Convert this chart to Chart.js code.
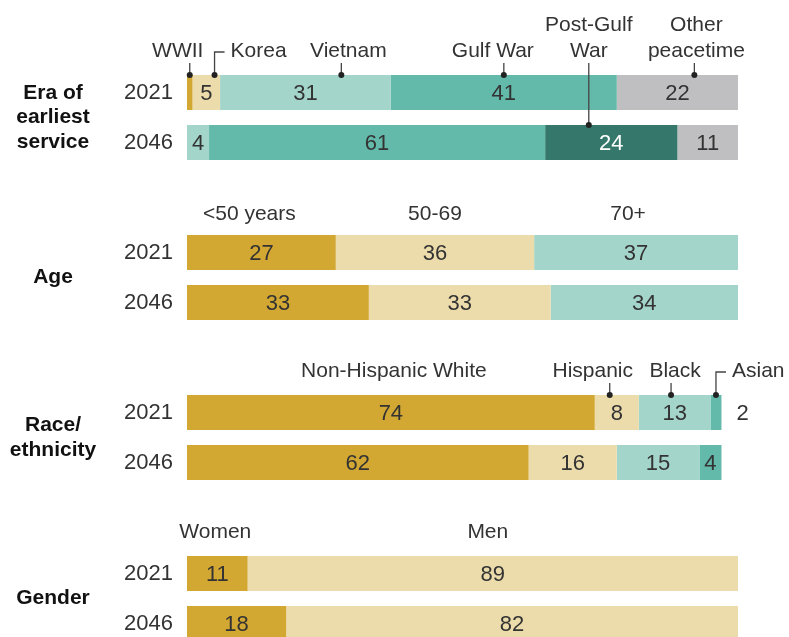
<!DOCTYPE html>
<html lang="en">
<head>
<meta charset="UTF-8" />
<title>Profile of U.S. veterans, 2021 and 2046</title>
<style>
  body {
    margin: 0;
    background: #fff;
    overflow: hidden;
    width: 789px;
    height: 637px;
    position: relative;
  }
  .panel {
    position: absolute;
    left: 0;
    width: 789px;
    height: 170px;
  }
</style>
</head>
<body>
<div class="panel" style="top: 0px"><canvas id="eraChart" width="789" height="170"></canvas></div>
<div class="panel" style="top: 160px"><canvas id="ageChart" width="789" height="170"></canvas></div>
<div class="panel" style="top: 320px"><canvas id="raceChart" width="789" height="170"></canvas></div>
<div class="panel" style="top: 481px"><canvas id="genderChart" width="789" height="170"></canvas></div>

<script src="https://cdn.jsdelivr.net/npm/chart.js"></script>
<script>
const years = ["2021", "2046"];

const eraLabels = ["WWII", "Korea", "Vietnam", "Gulf War", ["Post-Gulf", "War"], ["Other", "peacetime"]];
const era2021 = [1, 5, 31, 41, 0, 22];
const era2046 = [0, 0, 4, 61, 24, 11];

const ageLabels = ["<50 years", "50-69", "70+"];
const age2021 = [27, 36, 37];
const age2046 = [33, 33, 34];

const raceLabels = ["Non-Hispanic White", "Hispanic", "Black", "Asian"];
const race2021 = [74, 8, 13, 2];
const race2046 = [62, 16, 15, 4];

const genderLabels = ["Women", "Men"];
const gender2021 = [11, 89];
const gender2046 = [18, 82];

const FONT = '"Liberation Sans", Arial, sans-serif';
const TEXT = "#333";
const GOLD = "#d2a732";
const BEIGE = "#eddcab";
const LTEAL = "#a4d5ca";
const TEAL = "#63baab";
const DGREEN = "#35776a";
const GRAY = "#bfbfc1";

// where each label and its leader sit (pos = fraction along the segment)
const eraMarks = [
  { pos: 0.5, dx: -12, leader: "line" },
  { pos: 0.8, leader: "elbow" },
  { pos: 0.71, dx: 7, leader: "line" },
  { pos: 0.5, dx: -11, leader: "line" },
  { pos: 0.33, dx: 0, leader: "line" },
  { pos: 0.64, dx: 2, leader: "line" },
];
const ageMarks = [{ dx: -12 }, { dx: 0 }, { dx: -8 }];
const raceMarks = [
  { dx: 3 },
  { pos: 0.34, dx: -17, leader: "line" },
  { pos: 0.45, dx: 4, leader: "line" },
  { pos: 0.5, leader: "elbow" },
];
const genderMarks = [{ dx: -2 }, { dx: -5 }];

function panelPlugin(cfg) {
  return {
    id: "panel",
    afterDatasetsDraw(chart) {
      const ctx = chart.ctx;
      const area = chart.chartArea;
      const sets = chart.data.datasets;
      ctx.save();

      // group title on the left
      ctx.font = "bold 21px " + FONT;
      ctx.fillStyle = "#111";
      ctx.textAlign = "center";
      ctx.textBaseline = "middle";
      const mid = (area.top + area.bottom) / 2;
      cfg.title.forEach((t, i) => {
        ctx.fillText(t, 53, mid + (i - (cfg.title.length - 1) / 2) * 24.5);
      });

      // numbers in the segments
      ctx.font = "22px " + FONT;
      sets.forEach((ds, di) => {
        const meta = chart.getDatasetMeta(di);
        meta.data.forEach((bar, i) => {
          const v = ds.data[i];
          if (!v) return;
          const left = Math.min(bar.x, bar.base);
          const right = Math.max(bar.x, bar.base);
          const isLast = sets.slice(di + 1).every((d) => !d.data[i]);
          if (v >= 4) {
            ctx.textAlign = "center";
            ctx.fillStyle = ds.valueColor || TEXT;
            ctx.fillText(String(v), (left + right) / 2, bar.y + 1);
          } else if (isLast) {
            ctx.textAlign = "left";
            ctx.fillStyle = TEXT;
            ctx.fillText(String(v), right + 15, bar.y + 1);
          }
        });
      });

      // category labels with leaders
      ctx.font = "21px " + FONT;
      const first = chart.getDatasetMeta(0).data[0];
      const baseY = first.y - first.height / 2 - cfg.gap;
      ctx.textBaseline = "alphabetic";
      ctx.strokeStyle = "#444";
      ctx.lineWidth = 1.3;
      cfg.labels.forEach((lab, di) => {
        const lines = Array.isArray(lab) ? lab : [lab];
        const mark = cfg.marks[di] || {};
        const row = sets[di].data[0] > 0 ? 0 : 1;
        const bar = chart.getDatasetMeta(di).data[row];
        const left = Math.min(bar.x, bar.base);
        const right = Math.max(bar.x, bar.base);
        const top = bar.y - bar.height / 2;
        const lx = left + (right - left) * (mark.pos == null ? 0.5 : mark.pos);
        ctx.fillStyle = TEXT;

        if (mark.leader === "elbow") {
          const ey = baseY - 5;
          ctx.beginPath();
          ctx.moveTo(lx, top);
          ctx.lineTo(lx, ey);
          ctx.lineTo(lx + 10, ey);
          ctx.stroke();
          ctx.textAlign = "left";
          lines.forEach((t, k) => {
            ctx.fillText(t, lx + 16, baseY - (lines.length - 1 - k) * 26);
          });
        } else {
          ctx.textAlign = "center";
          lines.forEach((t, k) => {
            ctx.fillText(t, lx + (mark.dx || 0), baseY - (lines.length - 1 - k) * 26);
          });
          if (mark.leader === "line") {
            ctx.beginPath();
            ctx.moveTo(lx, baseY + 6);
            ctx.lineTo(lx, top);
            ctx.stroke();
          }
        }
        if (mark.leader) {
          ctx.fillStyle = "#222";
          ctx.beginPath();
          ctx.arc(lx, top, 3, 0, Math.PI * 2);
          ctx.fill();
        }
      });
      ctx.restore();
    },
  };
}

function makeChart(id, title, labels, v2021, v2046, colors, marks, gap, whiteIdx) {
  const datasets = labels.map((lab, i) => ({
    label: Array.isArray(lab) ? lab.join(" ") : lab,
    data: [v2021[i], v2046[i]],
    backgroundColor: colors[i],
    borderWidth: 0,
    barPercentage: 0.7,
    categoryPercentage: 1,
    valueColor: i === whiteIdx ? "#fff" : TEXT,
  }));
  new Chart(document.getElementById(id), {
    type: "bar",
    data: { labels: years, datasets: datasets },
    options: {
      indexAxis: "y",
      responsive: false,
      animation: false,
      layout: { padding: { top: 67.5, bottom: 2.5, left: 0, right: 51 } },
      scales: {
        x: { stacked: true, display: false, min: 0, max: 100 },
        y: {
          stacked: true,
          grid: { display: false, drawTicks: false },
          border: { display: false },
          ticks: { padding: 14, color: TEXT, font: { family: FONT, size: 22 } },
          afterFit(scale) {
            scale.width = 187;
            // keep the tick labels from pushing the plot area around
            scale.paddingTop = 0;
            scale.paddingBottom = 0;
          },
        },
      },
      plugins: {
        legend: { display: false },
        tooltip: { enabled: false },
      },
    },
    plugins: [panelPlugin({ title: title, labels: labels, marks: marks, gap: gap })],
  });
}

makeChart("eraChart", ["Era of", "earliest", "service"], eraLabels, era2021, era2046,
  [GOLD, BEIGE, LTEAL, TEAL, DGREEN, GRAY], eraMarks, 18, 4);
makeChart("ageChart", ["Age"], ageLabels, age2021, age2046,
  [GOLD, BEIGE, LTEAL], ageMarks, 15, -1);
makeChart("raceChart", ["Race/", "ethnicity"], raceLabels, race2021, race2046,
  [GOLD, BEIGE, LTEAL, TEAL], raceMarks, 18, -1);
makeChart("genderChart", ["Gender"], genderLabels, gender2021, gender2046,
  [GOLD, BEIGE], genderMarks, 18, -1);
</script>
</body>
</html>
